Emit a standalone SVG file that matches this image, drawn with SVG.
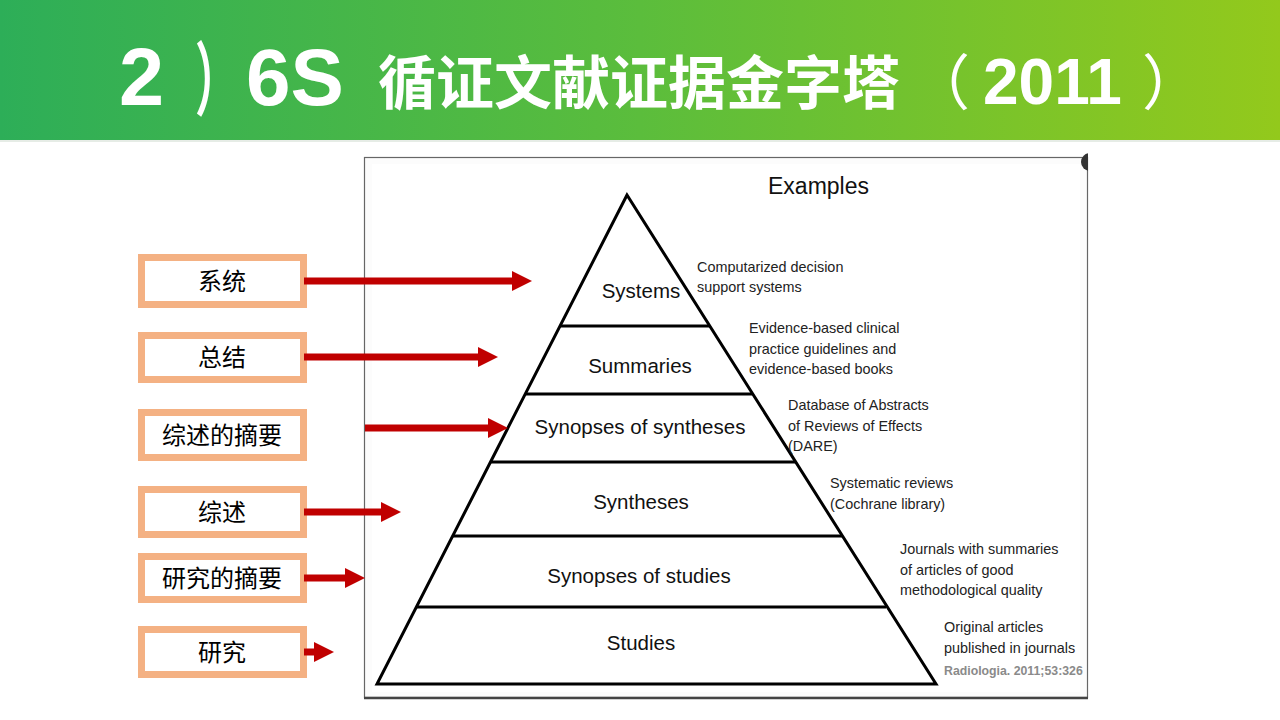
<svg xmlns="http://www.w3.org/2000/svg" width="1280" height="720" viewBox="0 0 1280 720">
<defs>
<linearGradient id="hdr" x1="0" y1="0" x2="1" y2="0">
<stop offset="0" stop-color="#2dae58"/>
<stop offset="0.5" stop-color="#5bbd3c"/>
<stop offset="1" stop-color="#93c91c"/>
</linearGradient>
<marker id="ah" markerUnits="userSpaceOnUse" markerWidth="20" markerHeight="20" refX="2" refY="10" orient="auto">
<path d="M0,0 L20,10 L0,20 z" fill="#c00000"/>
</marker>
<clipPath id="frameclip"><rect x="364" y="150" width="724" height="30"/></clipPath>
<style>
.t1{font-family:"Liberation Sans","Noto Sans CJK SC",sans-serif;font-weight:bold;fill:#fff}
.tc{font-family:"Noto Sans CJK SC",sans-serif;font-weight:bold;fill:#fff}
.tp{font-family:"Noto Sans CJK SC",sans-serif;font-weight:normal;fill:#fff}
.box rect{fill:#fff;stroke:#f4b183;stroke-width:7}
.box text{font-family:"Noto Sans CJK SC",sans-serif;font-size:24px;fill:#000;text-anchor:middle}
.lvl{font-family:"Liberation Sans",Arial,sans-serif;font-size:20.5px;fill:#111;text-anchor:middle}
.ex{font-family:"Liberation Sans",Arial,sans-serif;font-size:14.4px;fill:#222}
.conn line{stroke:#c00000;stroke-width:7;marker-end:url(#ah)}
.pyr{fill:none;stroke:#000;stroke-width:3}
</style>
</defs>
<rect x="0" y="0" width="1280" height="720" fill="#fff"/>
<g id="header">
<rect x="0" y="0" width="1280" height="140" fill="url(#hdr)"/>
<line x1="0" y1="141" x2="1280" y2="141" stroke="#e6ece6" stroke-width="2"/>
<text class="t1" x="119" y="105" font-size="81">2</text>
<text class="tc" transform="translate(195,108) scale(0.55,1)" x="0" y="0" font-size="80">）</text>
<text class="t1" x="246" y="105" font-size="80">6S</text>
<text class="tc" x="378" y="104" font-size="58">循证文献证据金字塔</text>
<text class="tp" x="910" y="105" font-size="60">（</text>
<text class="t1" x="983" y="104" font-size="64">2011</text>
<text class="tp" x="1142" y="105" font-size="60">）</text>
</g>
<g id="figure">
<rect x="364.5" y="157.5" width="723" height="540" fill="#fcfcfc" stroke="#666" stroke-width="1.2"/>
<rect x="372" y="164" width="708" height="528" fill="#fff"/>
<line x1="364" y1="698" x2="1088" y2="698" stroke="#444" stroke-width="2.5"/>
<circle cx="1090" cy="162" r="9" fill="#333" clip-path="url(#frameclip)"/>
<text x="768" y="194" font-family="Liberation Sans,Arial,sans-serif" font-size="23" fill="#111">Examples</text>
</g>
<g id="pyramid">
<path class="pyr" d="M627,195 L377,684 L936,684 Z"/>
<line class="pyr" x1="560" y1="326" x2="710" y2="326"/>
<line class="pyr" x1="525" y1="394" x2="752" y2="394"/>
<line class="pyr" x1="490" y1="462" x2="795" y2="462"/>
<line class="pyr" x1="453" y1="536" x2="842" y2="536"/>
<line class="pyr" x1="416" y1="607" x2="886" y2="607"/>
</g>
<g id="level-systems"><text class="lvl" x="641" y="298">Systems</text><text class="ex" x="697" y="272">Computarized decision</text><text class="ex" x="697" y="292">support systems</text></g>
<g id="level-summaries"><text class="lvl" x="640" y="373">Summaries</text><text class="ex" x="749" y="333">Evidence-based clinical</text><text class="ex" x="749" y="353.5">practice guidelines and</text><text class="ex" x="749" y="374">evidence-based books</text></g>
<g id="level-synopses-syntheses"><text class="lvl" x="640" y="434">Synopses of syntheses</text><text class="ex" x="788" y="410">Database of Abstracts</text><text class="ex" x="788" y="430.5">of Reviews of Effects</text><text class="ex" x="788" y="451">(DARE)</text></g>
<g id="level-syntheses"><text class="lvl" x="641" y="509">Syntheses</text><text class="ex" x="830" y="488">Systematic reviews</text><text class="ex" x="830" y="508.5">(Cochrane library)</text></g>
<g id="level-synopses-studies"><text class="lvl" x="639" y="583">Synopses of studies</text><text class="ex" x="900" y="554">Journals with summaries</text><text class="ex" x="900" y="574.5">of articles of good</text><text class="ex" x="900" y="595">methodological quality</text></g>
<g id="level-studies"><text class="lvl" x="641" y="650">Studies</text><text class="ex" x="944" y="632">Original articles</text><text class="ex" x="944" y="652.5">published in journals</text><text x="944" y="675" font-family="Liberation Sans,Arial,sans-serif" font-size="12.3" font-weight="bold" fill="#8a8a8a">Radiologia. 2011;53:326</text></g>
<g id="box-systems" class="box"><rect x="141.5" y="257.5" width="162" height="47"/><text x="222" y="290">系统</text></g>
<g id="box-summaries" class="box"><rect x="141.5" y="335.5" width="162" height="44"/><text x="222" y="366">总结</text></g>
<g id="box-synopses-syntheses" class="box"><rect x="141.5" y="412.5" width="162" height="45"/><text x="222" y="444">综述的摘要</text></g>
<g id="box-syntheses" class="box"><rect x="141.5" y="489.5" width="162" height="45"/><text x="222" y="521">综述</text></g>
<g id="box-synopses-studies" class="box"><rect x="141.5" y="556.5" width="162" height="43"/><text x="222" y="587">研究的摘要</text></g>
<g id="box-studies" class="box"><rect x="141.5" y="629.5" width="162" height="45"/><text x="222" y="661">研究</text></g>
<g id="connectors" class="conn">
<line x1="304" y1="281" x2="514" y2="281"/>
<line x1="304" y1="357" x2="480" y2="357"/>
<line x1="365" y1="428" x2="490" y2="428"/>
<line x1="304" y1="512" x2="383" y2="512"/>
<line x1="304" y1="578" x2="347" y2="578"/>
<line x1="304" y1="652" x2="316" y2="652"/>
</g>
</svg>
